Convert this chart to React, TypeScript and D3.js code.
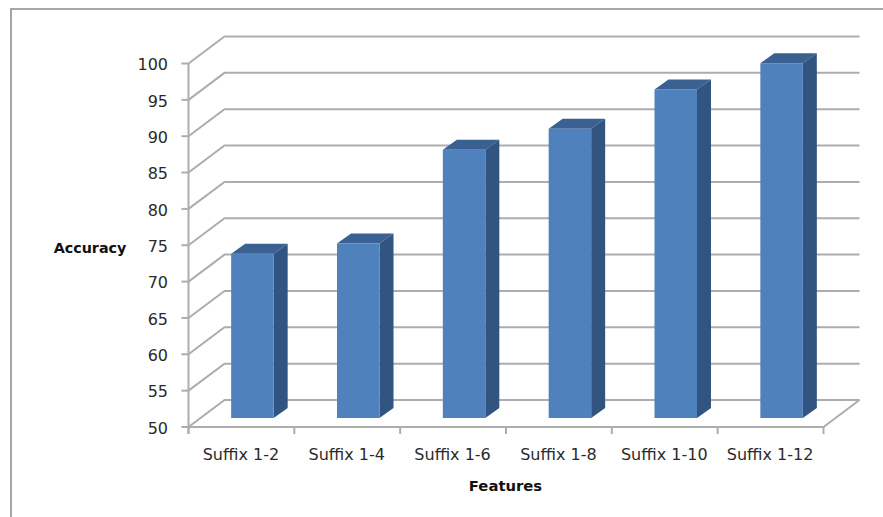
import React from "react";
import * as d3 from "d3";

const categories = ["Suffix 1-2", "Suffix 1-4", "Suffix 1-6", "Suffix 1-8", "Suffix 1-10", "Suffix 1-12"];
const accuracy = [72.6, 74, 86.9, 89.8, 95.2, 98.8];
const yTicks = [50, 55, 60, 65, 70, 75, 80, 85, 90, 95, 100];

const W = 883;
const H = 517;
const axisLeft = 188.5;
const axisRight = 823.5;
const axisBase = 427;
const axisTop = 63.5;
// Oblique offset of the back wall, and of the bars inside the floor.
const wallDx = 36;
const wallDy = -27;
const barDy = -9;
const sideDx = 14;
const sideDy = -10;
const barWidth = 42.5;

const GRID = "#adadad";
const FONT = "'DejaVu Sans', sans-serif";

const x = d3.scaleBand<string>().domain(categories).range([axisLeft, axisRight]);
const y = d3.scaleLinear().domain([50, 100]).range([axisBase, axisTop]);

const poly = (pts: [number, number][]) => d3.line()(pts) + "Z";

export default function App() {
  const tickEdges = [...categories.map((c) => x(c) as number), axisRight];
  return (
    <svg
      width={W}
      height={H}
      viewBox={`0 0 ${W} ${H}`}
      style={{ position: "absolute", left: 0, top: 0, background: "#fff" }}
      fontFamily={FONT}
    >
      {/* chart frame, cropped on the right and at the bottom */}
      <path d={`M11 517V9H883`} fill="none" stroke="#a6a6a6" strokeWidth={2} />

      {/* back wall gridlines and their floor/side returns */}
      {yTicks.map((t) => (
        <g key={t} fill="none" stroke={GRID} strokeWidth={2}>
          <path
            d={
              d3.line()([
                [axisLeft, y(t)],
                [axisLeft + wallDx, y(t) + wallDy],
                [axisRight + wallDx, y(t) + wallDy],
              ]) as string
            }
          />
          <line x1={axisLeft - 7} x2={axisLeft} y1={y(t)} y2={y(t)} />
          <text
            x={168}
            y={y(t) + 1}
            dy="0.36em"
            textAnchor="end"
            fontSize={16}
            fill="#2a2a2a"
            stroke="none"
          >
            {t}
          </text>
        </g>
      ))}

      {/* floor front edge and vertical axis */}
      <g fill="none" stroke={GRID} strokeWidth={2}>
        <line x1={axisLeft} x2={axisLeft} y1={axisTop} y2={axisBase + 7} />
        <line x1={axisLeft} x2={axisRight} y1={axisBase} y2={axisBase} />
        <line x1={axisRight} x2={axisRight + wallDx} y1={axisBase} y2={axisBase + wallDy} />
        {tickEdges.map((tx) => (
          <line key={tx} x1={tx} x2={tx} y1={axisBase} y2={axisBase + 7} />
        ))}
      </g>

      {/* bars */}
      {categories.map((c, i) => {
        const left = (x(c) as number) + (x.bandwidth() - barWidth) / 2 + 11;
        const right = left + barWidth;
        const top = y(accuracy[i]) + barDy;
        const bottom = y(50) + barDy;
        return (
          <g key={c}>
            <path
              d={poly([
                [left, top],
                [left + sideDx, top + sideDy],
                [right + sideDx, top + sideDy],
                [right, top],
              ])}
              fill="#3a6191"
            />
            <path
              d={poly([
                [right, top],
                [right + sideDx, top + sideDy],
                [right + sideDx, bottom + sideDy],
                [right, bottom],
              ])}
              fill="#325480"
            />
            <rect x={left} y={top} width={barWidth} height={bottom - top} fill="#4f81bd" />
          </g>
        );
      })}

      {/* category labels */}
      {categories.map((c) => (
        <text
          key={c}
          x={(x(c) as number) + x.bandwidth() / 2 - 0.5}
          y={454}
          dy="0.36em"
          textAnchor="middle"
          fontSize={16}
          fill="#2a2a2a"
        >
          {c}
        </text>
      ))}

      <text x={90} y={248} dy="0.36em" textAnchor="middle" fontSize={14.3} fontWeight="bold" fill="#111">
        Accuracy
      </text>
      <text x={505.5} y={486} dy="0.36em" textAnchor="middle" fontSize={14.8} fontWeight="bold" fill="#111">
        Features
      </text>
    </svg>
  );
}
